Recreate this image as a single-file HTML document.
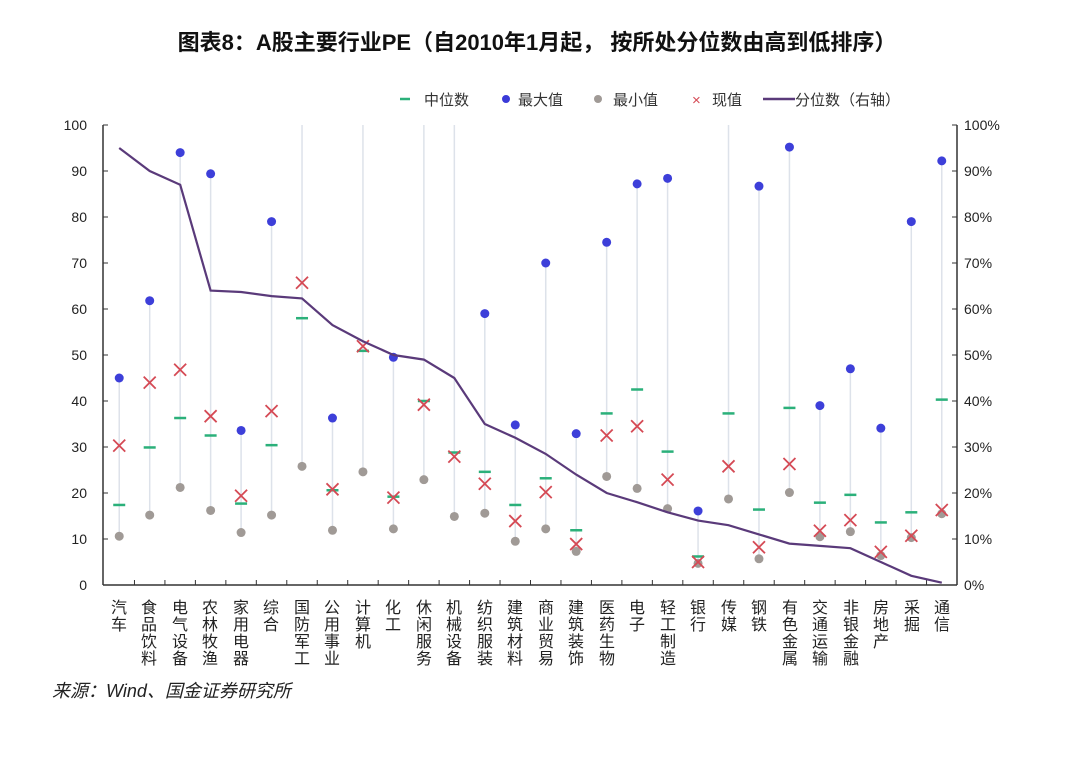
<!DOCTYPE html>
<html><head><meta charset="utf-8"><style>
html,body{margin:0;padding:0;background:#fff}
svg text{font-family:"Liberation Sans","Noto Sans CJK SC",sans-serif}
</style></head><body>
<svg id="s" width="1075" height="753" viewBox="0 0 1075 753" xmlns="http://www.w3.org/2000/svg">
<rect width="1075" height="753" fill="#fff"/>
<text x="537" y="50" text-anchor="middle" font-size="22" font-weight="bold" fill="#111">图表8：A股主要行业PE（自2010年1月起， 按所处分位数由高到低排序）</text>
<g font-size="15" fill="#333">
<line x1="400" y1="99" x2="410" y2="99" stroke="#2bb07a" stroke-width="2.5"/><text x="424" y="105">中位数</text>
<circle cx="506" cy="99" r="4" fill="#3a3ad8"/><text x="518" y="105">最大值</text>
<circle cx="598" cy="99" r="4" fill="#a09a96"/><text x="613" y="105">最小值</text>
<text x="692" y="105" fill="#d54a55">×</text><text x="712" y="105">现值</text>
<line x1="763" y1="99" x2="795" y2="99" stroke="#5a3a7a" stroke-width="2.5"/><text x="795" y="105">分位数（右轴）</text>
</g>
<g font-size="14" fill="#222" text-anchor="end">
<text x="87" y="130">100</text><text x="87" y="176">90</text><text x="87" y="222">80</text><text x="87" y="268">70</text><text x="87" y="314">60</text><text x="87" y="360">50</text><text x="87" y="406">40</text><text x="87" y="452">30</text><text x="87" y="498">20</text><text x="87" y="544">10</text><text x="87" y="590">0</text>
</g>
<g font-size="14" fill="#222">
<text x="964" y="130">100%</text><text x="964" y="176">90%</text><text x="964" y="222">80%</text><text x="964" y="268">70%</text><text x="964" y="314">60%</text><text x="964" y="360">50%</text><text x="964" y="406">40%</text><text x="964" y="452">30%</text><text x="964" y="498">20%</text><text x="964" y="544">10%</text><text x="964" y="590">0%</text>
</g>
<g id="cats" font-size="16" fill="#222" text-anchor="middle">
<text x="119" y="613">汽</text><text x="119" y="630">车</text>
<text x="149" y="613">食</text><text x="149" y="630">品</text><text x="149" y="647">饮</text><text x="149" y="664">料</text>
<text x="180" y="613">电</text><text x="180" y="630">气</text><text x="180" y="647">设</text><text x="180" y="664">备</text>
<text x="210" y="613">农</text><text x="210" y="630">林</text><text x="210" y="647">牧</text><text x="210" y="664">渔</text>
<text x="241" y="613">家</text><text x="241" y="630">用</text><text x="241" y="647">电</text><text x="241" y="664">器</text>
<text x="271" y="613">综</text><text x="271" y="630">合</text>
<text x="302" y="613">国</text><text x="302" y="630">防</text><text x="302" y="647">军</text><text x="302" y="664">工</text>
<text x="332" y="613">公</text><text x="332" y="630">用</text><text x="332" y="647">事</text><text x="332" y="664">业</text>
<text x="363" y="613">计</text><text x="363" y="630">算</text><text x="363" y="647">机</text>
<text x="393" y="613">化</text><text x="393" y="630">工</text>
<text x="424" y="613">休</text><text x="424" y="630">闲</text><text x="424" y="647">服</text><text x="424" y="664">务</text>
<text x="454" y="613">机</text><text x="454" y="630">械</text><text x="454" y="647">设</text><text x="454" y="664">备</text>
<text x="485" y="613">纺</text><text x="485" y="630">织</text><text x="485" y="647">服</text><text x="485" y="664">装</text>
<text x="515" y="613">建</text><text x="515" y="630">筑</text><text x="515" y="647">材</text><text x="515" y="664">料</text>
<text x="546" y="613">商</text><text x="546" y="630">业</text><text x="546" y="647">贸</text><text x="546" y="664">易</text>
<text x="576" y="613">建</text><text x="576" y="630">筑</text><text x="576" y="647">装</text><text x="576" y="664">饰</text>
<text x="607" y="613">医</text><text x="607" y="630">药</text><text x="607" y="647">生</text><text x="607" y="664">物</text>
<text x="637" y="613">电</text><text x="637" y="630">子</text>
<text x="668" y="613">轻</text><text x="668" y="630">工</text><text x="668" y="647">制</text><text x="668" y="664">造</text>
<text x="698" y="613">银</text><text x="698" y="630">行</text>
<text x="729" y="613">传</text><text x="729" y="630">媒</text>
<text x="759" y="613">钢</text><text x="759" y="630">铁</text>
<text x="790" y="613">有</text><text x="790" y="630">色</text><text x="790" y="647">金</text><text x="790" y="664">属</text>
<text x="820" y="613">交</text><text x="820" y="630">通</text><text x="820" y="647">运</text><text x="820" y="664">输</text>
<text x="851" y="613">非</text><text x="851" y="630">银</text><text x="851" y="647">金</text><text x="851" y="664">融</text>
<text x="881" y="613">房</text><text x="881" y="630">地</text><text x="881" y="647">产</text>
<text x="912" y="613">采</text><text x="912" y="630">掘</text>
<text x="942" y="613">通</text><text x="942" y="630">信</text>
</g>
<text x="52" y="697" font-size="18" font-style="italic" fill="#222">来源：Wind、国金证券研究所</text>
<g id="plot"></g>
</svg>
<script>
var mx=[45,61.8,94,89.4,33.6,79,101,36.3,101,49.5,101,101,59,34.8,70,32.9,74.5,87.2,88.4,16.1,101,86.7,95.2,39,47,34.1,79,92.2];
var mn=[10.6,15.2,21.2,16.2,11.4,15.2,25.8,11.9,24.6,12.2,22.9,14.9,15.6,9.5,12.2,7.3,23.6,21,16.6,4.7,18.7,5.7,20.1,10.5,11.6,6.4,10.3,15.5];
var md=[17.4,29.9,36.3,32.5,17.7,30.4,58,20.6,50.9,19.2,40,28.8,24.6,17.4,23.2,11.9,37.3,42.5,29,6.2,37.3,16.4,38.5,17.9,19.6,13.6,15.8,40.3];
var cu=[30.3,44,46.8,36.7,19.4,37.8,65.7,20.8,51.9,19,39.2,27.9,22,13.9,20.2,8.9,32.5,34.5,22.9,5,25.8,8.2,26.3,11.8,14.1,7.2,10.7,16.3];
var pc=[95,90,87,64,63.7,62.8,62.3,56.5,53,50,49,45,35,32,28.5,24,20,18,15.8,14,13,11,9,8.5,8,5,2,0.5];
var L=104,W=853/28,Y=function(v){return 585-4.6*Math.min(v,100)};
var h='';
for(var i=0;i<28;i++){var x=L+W*(i+.5);
h+='<line x1="'+x+'" y1="'+Y(mx[i])+'" x2="'+x+'" y2="'+Y(mn[i])+'" stroke="#dde2ea" stroke-width="1.5"/>';}
h+='<line x1="103" y1="125" x2="103" y2="585" stroke="#333" stroke-width="1.5"/>';
h+='<line x1="957" y1="125" x2="957" y2="585" stroke="#333" stroke-width="1.5"/>';
h+='<line x1="103" y1="585" x2="957" y2="585" stroke="#333" stroke-width="1.5"/>';
for(var k=0;k<=10;k++){var y=585-46*k;h+='<line x1="103" y1="'+y+'" x2="108" y2="'+y+'" stroke="#333"/><line x1="952" y1="'+y+'" x2="957" y2="'+y+'" stroke="#333"/>';}
for(var i=1;i<28;i++){var x=L+W*i;h+='<line x1="'+x+'" y1="580" x2="'+x+'" y2="585" stroke="#333"/>';}
for(var i=0;i<28;i++){var x=L+W*(i+.5);
if(mx[i]<=100)h+='<circle cx="'+x+'" cy="'+Y(mx[i])+'" r="4.5" fill="#3d3fd9"/>';
h+='<circle cx="'+x+'" cy="'+Y(mn[i])+'" r="4.5" fill="#a09a96"/>';
h+='<line x1="'+(x-6)+'" y1="'+Y(md[i])+'" x2="'+(x+6)+'" y2="'+Y(md[i])+'" stroke="#2bb07a" stroke-width="2.5"/>';
var c=Y(cu[i]);h+='<path d="M'+(x-6)+' '+(c-6)+'L'+(x+6)+' '+(c+6)+'M'+(x+6)+' '+(c-6)+'L'+(x-6)+' '+(c+6)+'" stroke="#d54a55" stroke-width="1.8"/>';}
var p='';for(var i=0;i<28;i++){p+=(i?'L':'M')+(L+W*(i+.5)).toFixed(1)+' '+Y(pc[i]).toFixed(1);}
h+='<path d="'+p+'" fill="none" stroke="#5a3a7a" stroke-width="2.2"/>';
document.getElementById('plot').innerHTML=h;
</script>
</body></html>
